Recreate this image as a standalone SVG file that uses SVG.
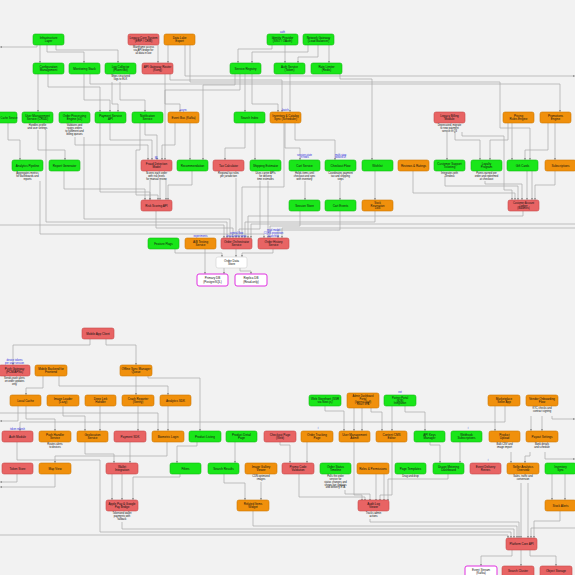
<svg xmlns="http://www.w3.org/2000/svg" width="575" height="575" viewBox="0 0 575 575">
<style>
.n rect{stroke-width:0.6}
.g rect{fill:#19e619;stroke:#10b810}
.r rect{fill:#e86464;stroke:#c84848}
.o rect{fill:#f0900c;stroke:#cc7600}
.m rect{fill:#ffffff;stroke:#e030e0;stroke-width:1}
.w rect{fill:#ffffff;stroke:#cfcfcf}
text{font-family:"Liberation Sans",Arial,sans-serif;font-size:3px;text-anchor:middle;fill:#111}
.s{font-size:2.6px}
.b{fill:#2a2ae0;font-size:2.6px}
#edges path{fill:none;stroke:#a9a9a9;stroke-width:0.7;marker-end:url(#a)}
</style>
<defs>
<marker id="a" viewBox="0 0 6 6" refX="6" refY="3" markerWidth="2.4" markerHeight="2.4" orient="auto" markerUnits="userSpaceOnUse"><path d="M0,0L6,3L0,6z" fill="#888"/></marker>
</defs>
<rect width="575" height="575" fill="#f2f2f2"/>
<g id="edges">
<path d="M37 45V47H0"/>
<path d="M40 45V63"/>
<path d="M47 45V52H84V63"/>
<path d="M56 45V50H118V63"/>
<path d="M158 45V63"/>
<path d="M168 45V63"/>
<path d="M190 45V82H500V128H530V160"/>
<path d="M185 45V76H575"/>
<path d="M272 45V49H238V63"/>
<path d="M285 45V63"/>
<path d="M308 45V52H252V63"/>
<path d="M318 45V57H298V63"/>
<path d="M329 45V63"/>
<path d="M38 73V112"/>
<path d="M48 73V87H100V112"/>
<path d="M84 73V100H110V112"/>
<path d="M90 73V84H560V112"/>
<path d="M112 82V104H118V112"/>
<path d="M120 82V100H145V112"/>
<path d="M165 73V104H180V112"/>
<path d="M170 73V80H282V112"/>
<path d="M245 73V112"/>
<path d="M252 73V104H278V112"/>
<path d="M290 73V112"/>
<path d="M340 73V79H372V160"/>
<path d="M235 73V85H203V160"/>
<path d="M240 73V90H165V160"/>
<path d="M8 123V140H20V160"/>
<path d="M38 130V150H65V160"/>
<path d="M46 130V222H227V238"/>
<path d="M75 137V145H148V160"/>
<path d="M84 137V219H230V238"/>
<path d="M110 123V140H152V160"/>
<path d="M100 123V192H150V200"/>
<path d="M140 123V150H136V195H158V200"/>
<path d="M145 123V135H157V160"/>
<path d="M175 123V145H162V160"/>
<path d="M190 123V160"/>
<path d="M245 123V148H225V160"/>
<path d="M255 123V160"/>
<path d="M285 123V148H300V160"/>
<path d="M295 123V140H335V160"/>
<path d="M284 123V187H242V238"/>
<path d="M447 132V160"/>
<path d="M455 132V140H480V160"/>
<path d="M462 132V136H504V190H512V200"/>
<path d="M512 123V160"/>
<path d="M508 123V140H490V160"/>
<path d="M555 123V160"/>
<path d="M548 123V150H525V160"/>
<path d="M64 170V189H145V200"/>
<path d="M150 180V200"/>
<path d="M160 180V200"/>
<path d="M166 180V200"/>
<path d="M192 170V185H168V200"/>
<path d="M236 178V238"/>
<path d="M260 181V229H239V238"/>
<path d="M268 181V238"/>
<path d="M305 181V200"/>
<path d="M340 181V200"/>
<path d="M375 170V200"/>
<path d="M413 170V193H515V200"/>
<path d="M445 177V186H518V200"/>
<path d="M485 181V184H522V200"/>
<path d="M527 170V200"/>
<path d="M532 170V200"/>
<path d="M555 170V185H535V200"/>
<path d="M375 211V222H245V238"/>
<path d="M523 211V216H248V238"/>
<path d="M575 224H251V238"/>
<path d="M575 228H282V238"/>
<path d="M0 225H224V238"/>
<path d="M156 211V228H233V238"/>
<path d="M340 211V230H278V238"/>
<path d="M300 211V226H270V238"/>
<path d="M40 181V234H264V238"/>
<path d="M236 249V257"/>
<path d="M273 249V253H242V257"/>
<path d="M175 249V253H222V257"/>
<path d="M205 249V274"/>
<path d="M224 268V274"/>
<path d="M240 268V271H251V274"/>
<path d="M90 338V345H13V365"/>
<path d="M106 338V345H136V365"/>
<path d="M43 375V388H26V395"/>
<path d="M59 375V386H168V395"/>
<path d="M136 375V395"/>
<path d="M148 375V378H200V431"/>
<path d="M26 406V419H55V431"/>
<path d="M18 406V421H0"/>
<path d="M63 406V416H85V431"/>
<path d="M100 406V431"/>
<path d="M138 406V431"/>
<path d="M168 406V431"/>
<path d="M0 413H158V431"/>
<path d="M325 406V411H344V431"/>
<path d="M354 408V431"/>
<path d="M362 408V431"/>
<path d="M371 408V412H382V431"/>
<path d="M392 406V431"/>
<path d="M405 406V412H425V431"/>
<path d="M505 406V422H20V431"/>
<path d="M495 406V431"/>
<path d="M531 416V431"/>
<path d="M542 416V431"/>
<path d="M552 416V419H575"/>
<path d="M17 441V460H100V532H511V538"/>
<path d="M85 441V454H114V463"/>
<path d="M130 441V463"/>
<path d="M167 441V456H55V463"/>
<path d="M197 441V446H177V463"/>
<path d="M235 441V463"/>
<path d="M280 441V445H290V463"/>
<path d="M307 441V463"/>
<path d="M354 441V495H362V501"/>
<path d="M392 441V495H380V501"/>
<path d="M430 441V445H440V463"/>
<path d="M460 441V463"/>
<path d="M511 452V463"/>
<path d="M530 452V456H525V463"/>
<path d="M545 452V459H575"/>
<path d="M17 473V482H0"/>
<path d="M55 473V487H0"/>
<path d="M112 473V500"/>
<path d="M122 473V500"/>
<path d="M180 474V477H133V500"/>
<path d="M224 474V483H245V500"/>
<path d="M261 482V500"/>
<path d="M299 474V497H365V501"/>
<path d="M345 490V494H370V501"/>
<path d="M376 474V501"/>
<path d="M384 474V501"/>
<path d="M448 474V479H388V501"/>
<path d="M521 483V538"/>
<path d="M528 483V538"/>
<path d="M552 474V500"/>
<path d="M565 474V500"/>
<path d="M560 511V521H534V538"/>
<path d="M0 535H508V538"/>
<path d="M122 522V529H514V538"/>
<path d="M253 511V526H517V538"/>
<path d="M370 519V522H519V538"/>
<path d="M575 528H531V538"/>
<path d="M512 550V556H481V566"/>
<path d="M521 550V566"/>
<path d="M530 550V556H556V566"/>
</g>
<g id="n1" class="n g"><rect x="33" y="34" width="31" height="11" rx="2"/><text x="48.5" y="38.9">Infrastructure</text><text x="48.5" y="42.3">Layer</text></g>
<g id="n2" class="n r"><rect x="128" y="34" width="31" height="11" rx="2"/><text x="143.5" y="38.9">Legacy Core System</text><text x="143.5" y="42.3">(ERP / CRM)</text><text class="s" x="143.5" y="48.2">Mainframe access</text><text class="s" x="143.5" y="51">via API bridge for</text><text class="s" x="143.5" y="53.8">all data in use</text></g>
<g id="n3" class="n o"><rect x="164" y="34" width="31" height="11" rx="2"/><text x="179.5" y="38.9">Data Lake</text><text x="179.5" y="42.3">Export</text></g>
<g id="n4" class="n g"><rect x="267" y="34" width="31" height="11" rx="2"/><text class="b" x="282.5" y="32.5">auth</text><text x="282.5" y="38.9">Identity Provider</text><text x="282.5" y="42.3">(SSO / OAuth)</text></g>
<g id="n5" class="n g"><rect x="303" y="34" width="31" height="11" rx="2"/><text x="318.5" y="38.9">Network Gateway</text><text x="318.5" y="42.3">(Load Balancer)</text></g>
<g id="n6" class="n g"><rect x="33" y="63" width="31" height="11" rx="2"/><text x="48.5" y="67.9">Configuration</text><text x="48.5" y="71.3">Management</text></g>
<g id="n7" class="n g"><rect x="69" y="63" width="31" height="11" rx="2"/><text x="84.5" y="69.9">Monitoring Stack</text></g>
<g id="n8" class="n g"><rect x="105" y="63" width="31" height="11" rx="2"/><text x="120.5" y="67.9">Log Collector</text><text x="120.5" y="71.3">(Fluent Bit)</text><text class="s" x="120.5" y="77.2">Ships structured</text><text class="s" x="120.5" y="80">logs to ELK</text></g>
<g id="n9" class="n r"><rect x="142" y="63" width="31" height="11" rx="2"/><text x="157.5" y="67.9">API Gateway Router</text><text x="157.5" y="71.3">(Kong)</text></g>
<g id="n10" class="n g"><rect x="230" y="63" width="31" height="11" rx="2"/><text x="245.5" y="69.9">Service Registry</text></g>
<g id="n11" class="n g"><rect x="274" y="63" width="31" height="11" rx="2"/><text x="289.5" y="67.9">Auth Service</text><text x="289.5" y="71.3">(Token)</text></g>
<g id="n12" class="n g"><rect x="311" y="63" width="31" height="11" rx="2"/><text x="326.5" y="67.9">Rate Limiter</text><text x="326.5" y="71.3">(Redis)</text></g>
<g id="n13" class="n g"><rect x="-14" y="112" width="31" height="11" rx="2"/><text class="s" x="9" y="118.6">Cache Service</text></g>
<g id="n14" class="n g"><rect x="22" y="112" width="31" height="11" rx="2"/><text x="37.5" y="116.9">User Management</text><text x="37.5" y="120.3">Service (CRUD)</text><text class="s" x="37.5" y="126.2">Handles profile</text><text class="s" x="37.5" y="129">and user settings</text></g>
<g id="n15" class="n g"><rect x="59" y="112" width="31" height="11" rx="2"/><text x="74.5" y="116.9">Order Processing</text><text x="74.5" y="120.3">Engine (v2)</text><text class="s" x="74.5" y="126.2">Validates and</text><text class="s" x="74.5" y="129">routes orders</text><text class="s" x="74.5" y="131.8">to fulfilment and</text><text class="s" x="74.5" y="134.6">billing queues</text></g>
<g id="n16" class="n g"><rect x="95" y="112" width="31" height="11" rx="2"/><text x="110.5" y="116.9">Payment Service</text><text x="110.5" y="120.3">API</text></g>
<g id="n17" class="n g"><rect x="132" y="112" width="31" height="11" rx="2"/><text x="147.5" y="116.9">Notification</text><text x="147.5" y="120.3">Service</text></g>
<g id="n18" class="n o"><rect x="168" y="112" width="31" height="11" rx="2"/><text class="b" x="183.5" y="110.5">async</text><text x="183.5" y="118.9">Event Bus (Kafka)</text></g>
<g id="n19" class="n g"><rect x="234" y="112" width="31" height="11" rx="2"/><text x="249.5" y="118.9">Search Index</text></g>
<g id="n20" class="n o"><rect x="270" y="112" width="31" height="11" rx="2"/><text class="b" x="285.5" y="110.5">batch</text><text x="285.5" y="116.9">Inventory &amp; Catalog</text><text x="285.5" y="120.3">Sync (Scheduler)</text></g>
<g id="n21" class="n r"><rect x="434" y="112" width="31" height="11" rx="2"/><text x="449.5" y="116.9">Legacy Billing</text><text x="449.5" y="120.3">Module</text><text class="s" x="449.5" y="126.2">Deprecated, migrate</text><text class="s" x="449.5" y="129">to new payment</text><text class="s" x="449.5" y="131.8">service in Q3</text></g>
<g id="n22" class="n o"><rect x="503" y="112" width="31" height="11" rx="2"/><text x="518.5" y="116.9">Pricing</text><text x="518.5" y="120.3">Rules Engine</text></g>
<g id="n23" class="n o"><rect x="540" y="112" width="31" height="11" rx="2"/><text x="555.5" y="116.9">Promotions</text><text x="555.5" y="120.3">Engine</text></g>
<g id="n24" class="n g"><rect x="12" y="160" width="31" height="11" rx="2"/><text x="27.5" y="166.9">Analytics Pipeline</text><text class="s" x="27.5" y="174.2">Aggregates metrics</text><text class="s" x="27.5" y="177">for dashboards and</text><text class="s" x="27.5" y="179.8">reports</text></g>
<g id="n25" class="n g"><rect x="49" y="160" width="31" height="11" rx="2"/><text x="64.5" y="166.9">Report Generator</text></g>
<g id="n26" class="n r"><rect x="141" y="160" width="31" height="11" rx="2"/><text class="b" x="156.5" y="158.5">ML</text><text x="156.5" y="164.9">Fraud Detection</text><text x="156.5" y="168.3">Model</text><text class="s" x="156.5" y="174.2">Scores each order</text><text class="s" x="156.5" y="177">with risk levels</text><text class="s" x="156.5" y="179.8">for manual review</text></g>
<g id="n27" class="n g"><rect x="177" y="160" width="31" height="11" rx="2"/><text x="192.5" y="166.9">Recommendation</text></g>
<g id="n28" class="n r"><rect x="213" y="160" width="31" height="11" rx="2"/><text x="228.5" y="166.9">Tax Calculator</text><text class="s" x="228.5" y="174.2">Regional tax rules</text><text class="s" x="228.5" y="177">per jurisdiction</text></g>
<g id="n29" class="n g"><rect x="250" y="160" width="31" height="11" rx="2"/><text x="265.5" y="166.9">Shipping Estimator</text><text class="s" x="265.5" y="174.2">Uses carrier APIs</text><text class="s" x="265.5" y="177">for delivery</text><text class="s" x="265.5" y="179.8">time estimates</text></g>
<g id="n30" class="n g"><rect x="289" y="160" width="31" height="11" rx="2"/><text class="b" x="304.5" y="155.5">session state</text><text class="b" x="304.5" y="158.3">in redis</text><text x="304.5" y="166.9">Cart Service</text><text class="s" x="304.5" y="174.2">Holds items until</text><text class="s" x="304.5" y="177">checkout and sync</text><text class="s" x="304.5" y="179.8">with inventory</text></g>
<g id="n31" class="n g"><rect x="325" y="160" width="31" height="11" rx="2"/><text class="b" x="340.5" y="155.5">multi-step</text><text class="b" x="340.5" y="158.3">wizard UI</text><text x="340.5" y="166.9">Checkout Flow</text><text class="s" x="340.5" y="174.2">Coordinates payment</text><text class="s" x="340.5" y="177">tax and shipping</text><text class="s" x="340.5" y="179.8">steps</text></g>
<g id="n32" class="n g"><rect x="362" y="160" width="31" height="11" rx="2"/><text x="377.5" y="166.9">Wishlist</text></g>
<g id="n33" class="n o"><rect x="398" y="160" width="31" height="11" rx="2"/><text x="413.5" y="166.9">Reviews &amp; Ratings</text></g>
<g id="n34" class="n g"><rect x="434" y="160" width="31" height="11" rx="2"/><text x="449.5" y="164.9">Customer Support</text><text x="449.5" y="168.3">Ticketing</text><text class="s" x="449.5" y="174.2">Integrates with</text><text class="s" x="449.5" y="177">Zendesk</text></g>
<g id="n35" class="n g"><rect x="471" y="160" width="31" height="11" rx="2"/><text x="486.5" y="164.9">Loyalty</text><text x="486.5" y="168.3">Program</text><text class="s" x="486.5" y="174.2">Points earned per</text><text class="s" x="486.5" y="177">order and redeemed</text><text class="s" x="486.5" y="179.8">at checkout</text></g>
<g id="n36" class="n g"><rect x="507" y="160" width="31" height="11" rx="2"/><text x="522.5" y="166.9">Gift Cards</text></g>
<g id="n37" class="n o"><rect x="545" y="160" width="31" height="11" rx="2"/><text x="560.5" y="166.9">Subscriptions</text></g>
<g id="n38" class="n r"><rect x="141" y="200" width="31" height="11" rx="2"/><text x="156.5" y="206.9">Risk Scoring API</text></g>
<g id="n39" class="n g"><rect x="289" y="200" width="31" height="11" rx="2"/><text x="304.5" y="206.9">Session Store</text></g>
<g id="n40" class="n g"><rect x="325" y="200" width="31" height="11" rx="2"/><text x="340.5" y="206.9">Cart Events</text></g>
<g id="n41" class="n o"><rect x="362" y="200" width="31" height="11" rx="2"/><text class="s" x="377.5" y="203.6">Stock</text><text class="s" x="377.5" y="206.5">Reservation</text><text class="s" x="377.5" y="209.4">Lock</text></g>
<g id="n42" class="n r"><rect x="508" y="200" width="31" height="11" rx="2"/><text class="s" x="523.5" y="203.6">Customer Account</text><text class="s" x="523.5" y="206.5">Ledger</text><text class="s" x="523.5" y="209.4">(Balances)</text></g>
<g id="n43" class="n g"><rect x="148" y="238" width="31" height="11" rx="2"/><text x="163.5" y="244.9">Feature Flags</text></g>
<g id="n44" class="n o"><rect x="185" y="238" width="31" height="11" rx="2"/><text class="b" x="200.5" y="236.5">experiments</text><text x="200.5" y="242.9">A/B Testing</text><text x="200.5" y="246.3">Service</text></g>
<g id="n45" class="n r"><rect x="221" y="238" width="31" height="11" rx="2"/><text class="b" x="236.5" y="233.7">central flow</text><text class="b" x="236.5" y="236.5">for all order steps</text><text x="236.5" y="242.9">Order Orchestrator</text><text x="236.5" y="246.3">Service</text></g>
<g id="n46" class="n r"><rect x="258" y="238" width="31" height="11" rx="2"/><text class="b" x="273.5" y="230.9">read model</text><text class="b" x="273.5" y="233.7">CQRS projection</text><text class="b" x="273.5" y="236.5">&amp; archive</text><text x="273.5" y="242.9">Order History</text><text x="273.5" y="246.3">Service</text></g>
<g id="n47" class="n w"><rect x="216" y="257" width="31" height="11" rx="2"/><text x="231.5" y="261.9">Order Data</text><text x="231.5" y="265.3">Store</text></g>
<g id="n48" class="n m"><rect x="197" y="274" width="31" height="12" rx="2"/><text x="212.5" y="278.9">Primary DB</text><text x="212.5" y="282.5">(PostgreSQL)</text></g>
<g id="n49" class="n m"><rect x="235" y="274" width="32" height="12" rx="2"/><text x="251" y="278.9">Replica DB</text><text x="251" y="282.5">(Read-only)</text></g>
<g id="b1" class="n r"><rect x="82" y="328" width="32" height="11" rx="2"/><text x="98" y="334.9">Mobile App Client</text></g>
<g id="b2" class="n r"><rect x="-1" y="365" width="31" height="11" rx="2"/><text class="b" x="14.5" y="360.7">device tokens</text><text class="b" x="14.5" y="363.5">per user session</text><text x="14.5" y="369.9">Push Gateway</text><text x="14.5" y="373.3">(FCM/APNs)</text><text class="s" x="14.5" y="379.2">Sends push alerts</text><text class="s" x="14.5" y="382">on order updates</text><text class="s" x="14.5" y="384.8">only</text></g>
<g id="b3" class="n o"><rect x="35" y="365" width="32" height="11" rx="2"/><text x="51" y="369.9">Mobile Backend for</text><text x="51" y="373.3">Frontend</text></g>
<g id="b4" class="n o"><rect x="120" y="365" width="32" height="11" rx="2"/><text x="136" y="369.9">Offline Sync Manager</text><text x="136" y="373.3">Queue</text></g>
<g id="b5" class="n o"><rect x="10" y="395" width="31" height="11" rx="2"/><text x="25.5" y="401.9">Local Cache</text></g>
<g id="b6" class="n o"><rect x="47" y="395" width="32" height="11" rx="2"/><text x="63" y="399.9">Image Loader</text><text x="63" y="403.3">(Lazy)</text></g>
<g id="b7" class="n o"><rect x="85" y="395" width="31" height="11" rx="2"/><text x="100.5" y="399.9">Deep Link</text><text x="100.5" y="403.3">Handler</text></g>
<g id="b8" class="n o"><rect x="122" y="395" width="32" height="11" rx="2"/><text x="138" y="399.9">Crash Reporter</text><text x="138" y="403.3">(Sentry)</text></g>
<g id="b9" class="n o"><rect x="160" y="395" width="31" height="11" rx="2"/><text x="175.5" y="401.9">Analytics SDK</text></g>
<g id="b10" class="n g"><rect x="309" y="395" width="32" height="11" rx="2"/><text x="325" y="399.9">Web Storefront (SSR</text><text x="325" y="403.3">via Next.js)</text></g>
<g id="b11" class="n o"><rect x="347" y="393" width="32" height="15" rx="2"/><text class="s" x="363" y="397">Admin Dashboard</text><text class="s" x="363" y="399.8">Portal</text><text class="s" x="363" y="402.6">(Internal Staff)</text><text class="s" x="363" y="405.4">React SPA</text></g>
<g id="b12" class="n g"><rect x="384" y="395" width="32" height="11" rx="2"/><text class="b" x="400" y="393.3">ext</text><text class="s" x="400" y="398.6">Partner Portal</text><text class="s" x="400" y="401.5">(B2B)</text><text class="s" x="400" y="404.4">Integration</text></g>
<g id="b13" class="n o"><rect x="488" y="395" width="32" height="11" rx="2"/><text x="504" y="399.9">Marketplace</text><text x="504" y="403.3">Seller App</text></g>
<g id="b14" class="n o"><rect x="526" y="395" width="32" height="11" rx="2"/><text x="542" y="399.9">Vendor Onboarding</text><text x="542" y="403.3">Flow</text><text class="s" x="542" y="409.2">KYC checks and</text><text class="s" x="542" y="412">contract signing</text></g>
<g id="b15" class="n r"><rect x="2" y="431" width="31" height="11" rx="2"/><text class="b" x="17.5" y="429.5">token refresh</text><text x="17.5" y="437.9">Auth Module</text></g>
<g id="b16" class="n o"><rect x="39" y="431" width="32" height="11" rx="2"/><text x="55" y="435.9">Push Handler</text><text x="55" y="439.3">Service</text><text class="s" x="55" y="445.2">Routes alerts</text><text class="s" x="55" y="448">to devices</text></g>
<g id="b17" class="n o"><rect x="77" y="431" width="31" height="11" rx="2"/><text x="92.5" y="435.9">Geolocation</text><text x="92.5" y="439.3">Service</text></g>
<g id="b18" class="n r"><rect x="114" y="431" width="32" height="11" rx="2"/><text x="130" y="437.9">Payment SDK</text></g>
<g id="b19" class="n o"><rect x="152" y="431" width="32" height="11" rx="2"/><text x="168" y="437.9">Biometric Login</text></g>
<g id="b20" class="n g"><rect x="189" y="431" width="32" height="11" rx="2"/><text x="205" y="437.9">Product Listing</text></g>
<g id="b21" class="n g"><rect x="226" y="431" width="31" height="11" rx="2"/><text x="241.5" y="435.9">Product Detail</text><text x="241.5" y="439.3">Page</text></g>
<g id="b22" class="n r"><rect x="264" y="431" width="32" height="11" rx="2"/><text x="280" y="435.9">Checkout Page</text><text x="280" y="439.3">(Web)</text></g>
<g id="b23" class="n o"><rect x="301" y="431" width="32" height="11" rx="2"/><text class="b" x="318" y="428.5">i</text><text x="317" y="435.9">Order Tracking</text><text x="317" y="439.3">Page</text></g>
<g id="b24" class="n o"><rect x="339" y="431" width="31" height="11" rx="2"/><text x="354.5" y="435.9">User Management</text><text x="354.5" y="439.3">Admin</text></g>
<g id="b25" class="n o"><rect x="376" y="431" width="31" height="11" rx="2"/><text x="391.5" y="435.9">Content CMS</text><text x="391.5" y="439.3">Editor</text></g>
<g id="b26" class="n g"><rect x="414" y="431" width="31" height="11" rx="2"/><text x="429.5" y="435.9">API Keys</text><text x="429.5" y="439.3">Manager</text></g>
<g id="b27" class="n g"><rect x="451" y="431" width="31" height="11" rx="2"/><text class="b" x="468" y="428.5">i</text><text x="466.5" y="435.9">Webhook</text><text x="466.5" y="439.3">Subscriptions</text></g>
<g id="b28" class="n o"><rect x="489" y="431" width="31" height="11" rx="2"/><text x="504.5" y="435.9">Product</text><text x="504.5" y="439.3">Upload</text><text class="s" x="504.5" y="445.2">Bulk CSV and</text><text class="s" x="504.5" y="448">image import</text></g>
<g id="b29" class="n o"><rect x="526" y="431" width="32" height="11" rx="2"/><text x="542" y="437.9">Payout Settings</text><text class="s" x="542" y="445.2">Bank details</text><text class="s" x="542" y="448">and schedule</text></g>
<g id="b30" class="n r"><rect x="2" y="463" width="31" height="11" rx="2"/><text x="17.5" y="469.9">Token Store</text></g>
<g id="b31" class="n o"><rect x="39" y="463" width="32" height="11" rx="2"/><text x="55" y="469.9">Map View</text></g>
<g id="b32" class="n r"><rect x="106" y="463" width="32" height="11" rx="2"/><text x="122" y="467.9">Wallet</text><text x="122" y="471.3">Integration</text></g>
<g id="b33" class="n g"><rect x="170" y="463" width="31" height="11" rx="2"/><text x="185.5" y="469.9">Filters</text></g>
<g id="b34" class="n g"><rect x="208" y="463" width="31" height="11" rx="2"/><text x="223.5" y="469.9">Search Results</text></g>
<g id="b35" class="n o"><rect x="245" y="463" width="32" height="11" rx="2"/><text x="261" y="467.9">Image Gallery</text><text x="261" y="471.3">Viewer</text><text class="s" x="261" y="477.2">CDN optimized</text><text class="s" x="261" y="480">images</text></g>
<g id="b36" class="n r"><rect x="282" y="463" width="32" height="11" rx="2"/><text x="298" y="467.9">Promo Code</text><text x="298" y="471.3">Validation</text></g>
<g id="b37" class="n g"><rect x="320" y="463" width="31" height="11" rx="2"/><text x="335.5" y="467.9">Order Status</text><text x="335.5" y="471.3">Timeline</text><text class="s" x="335.5" y="477.2">Polls the order</text><text class="s" x="335.5" y="480">service for</text><text class="s" x="335.5" y="482.8">status changes and</text><text class="s" x="335.5" y="485.6">shows live updates</text><text class="s" x="335.5" y="488.4">and delivery ETA</text></g>
<g id="b38" class="n o"><rect x="357" y="463" width="32" height="11" rx="2"/><text x="373" y="469.9">Roles &amp; Permissions</text></g>
<g id="b39" class="n g"><rect x="395" y="463" width="31" height="11" rx="2"/><text x="410.5" y="469.9">Page Templates</text><text class="s" x="410.5" y="477.2">Drag and drop</text></g>
<g id="b40" class="n g"><rect x="433" y="463" width="31" height="11" rx="2"/><text x="448.5" y="467.9">Usage Metering</text><text x="448.5" y="471.3">Dashboard</text></g>
<g id="b41" class="n r"><rect x="470" y="463" width="31" height="11" rx="2"/><text class="b" x="488" y="460.5">i</text><text x="485.5" y="467.9">Event Delivery</text><text x="485.5" y="471.3">Retries</text></g>
<g id="b42" class="n o"><rect x="507" y="463" width="32" height="11" rx="2"/><text x="523" y="467.9">Seller Analytics</text><text x="523" y="471.3">Overview</text><text class="s" x="523" y="477.2">Sales, traffic and</text><text class="s" x="523" y="480">conversion</text></g>
<g id="b43" class="n g"><rect x="545" y="463" width="31" height="11" rx="2"/><text x="560.5" y="467.9">Inventory</text><text x="560.5" y="471.3">Sync</text></g>
<g id="b44" class="n r"><rect x="106" y="500" width="32" height="11" rx="2"/><text x="122" y="504.9">Apple Pay &amp; Google</text><text x="122" y="508.3">Pay Bridge</text><text class="s" x="122" y="514.2">Tokenized wallet</text><text class="s" x="122" y="517">payments with</text><text class="s" x="122" y="519.8">fallback</text></g>
<g id="b45" class="n o"><rect x="237" y="500" width="32" height="11" rx="2"/><text x="253" y="504.9">Related Items</text><text x="253" y="508.3">Widget</text></g>
<g id="b46" class="n r"><rect x="358" y="500" width="31" height="11" rx="2"/><text x="373.5" y="504.9">Audit Log</text><text x="373.5" y="508.3">Viewer</text><text class="s" x="373.5" y="514.2">Tracks admin</text><text class="s" x="373.5" y="517">actions</text></g>
<g id="b47" class="n o"><rect x="545" y="500" width="31" height="11" rx="2"/><text x="560.5" y="506.9">Stock Alerts</text></g>
<g id="b48" class="n r"><rect x="506" y="538" width="31" height="12" rx="2"/><text x="521.5" y="545.2">Platform Core API</text></g>
<g id="b49" class="n m"><rect x="465" y="566" width="32" height="12" rx="2"/><text x="481" y="570.6">Event Stream</text><text x="481" y="574">(Kafka)</text></g>
<g id="b50" class="n r"><rect x="502" y="566" width="32" height="12" rx="2"/><text x="518" y="571.6">Search Cluster</text></g>
<g id="b51" class="n r"><rect x="540" y="566" width="32" height="12" rx="2"/><text x="556" y="571.6">Object Storage</text></g>
</svg>
